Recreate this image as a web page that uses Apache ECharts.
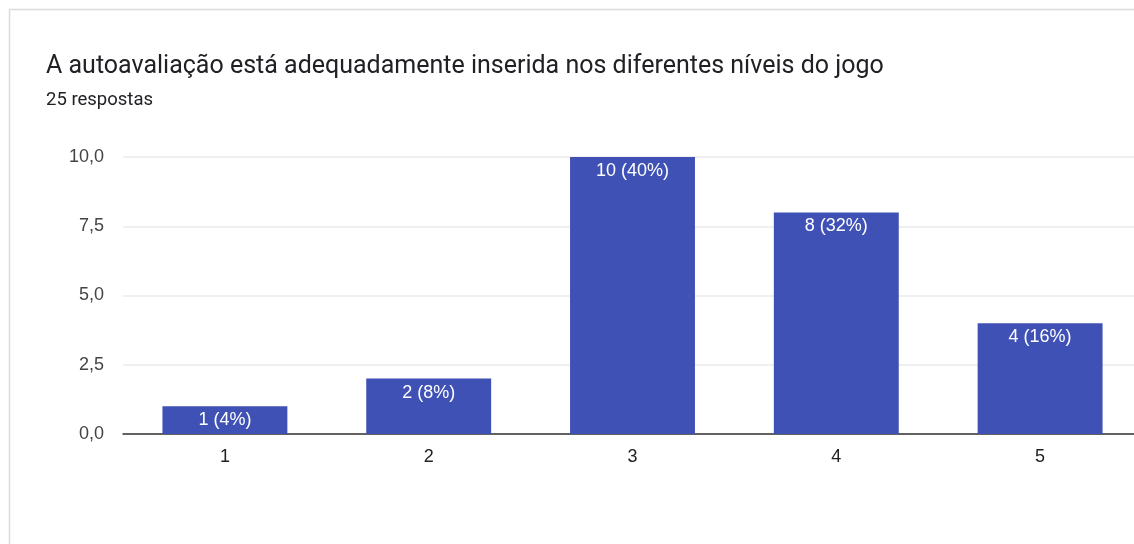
<!DOCTYPE html>
<html>
<head>
<meta charset="utf-8">
<script src="https://cdn.jsdelivr.net/npm/echarts@6/dist/echarts.min.js"></script>
<style>
  html, body { margin: 0; padding: 0; background: #fff; overflow: hidden; }
  #chart { width: 1160px; height: 544px; }
</style>
</head>
<body>
<div id="chart"></div>
<script>
// Survey answers on a 1–5 scale
const titleText = 'A autoavaliação está adequadamente inserida nos diferentes níveis do jogo';
const subtitleText = '25 respostas';
const categories = ['1', '2', '3', '4', '5'];
const counts = [1, 2, 10, 8, 4];
const totalResponses = 25;
const yTicks = [0, 2.5, 5, 7.5, 10];

const chart = echarts.init(document.getElementById('chart'), null, { renderer: 'canvas' });

const fmtTick = v => v.toFixed(1).replace('.', ',');
const labelFont = '"Liberation Sans", Arial, sans-serif';

chart.setOption({
  animation: false,
  backgroundColor: '#ffffff',
  graphic: [{
    type: 'rect',
    shape: { x: 9.5, y: 9.5, width: 1300, height: 700 },
    style: { fill: 'none', stroke: '#dadce0', lineWidth: 1.5 },
    silent: true,
    z: -1
  }],
  title: {
    text: titleText,
    subtext: subtitleText,
    left: 41,
    top: 49,
    itemGap: 12,
    textStyle: { fontFamily: 'Roboto', fontSize: 25, fontWeight: 'normal', color: '#202124' },
    subtextStyle: { fontFamily: 'Roboto', fontSize: 18.5, color: '#202124' }
  },
  grid: { left: 123, top: 157, width: 1019, height: 277 },
  xAxis: {
    type: 'category',
    data: categories,
    axisTick: { show: false },
    axisLine: { lineStyle: { color: '#333333', width: 1.5 } },
    axisLabel: { margin: 14, fontFamily: labelFont, fontSize: 18, color: '#222222' }
  },
  yAxis: {
    type: 'value',
    min: yTicks[0],
    max: yTicks[yTicks.length - 1],
    interval: yTicks[1] - yTicks[0],
    axisLine: { show: false },
    axisTick: { show: false },
    splitLine: { lineStyle: { color: '#ebebeb', width: 1.5 } },
    axisLabel: { margin: 19, fontFamily: labelFont, fontSize: 18, color: '#444444', formatter: fmtTick }
  },
  series: [{
    type: 'bar',
    data: counts,
    barWidth: '61.3%',
    itemStyle: { color: '#3f51b5' },
    label: {
      show: true,
      position: 'insideTop',
      distance: 5,
      fontFamily: labelFont,
      fontSize: 18,
      color: '#ffffff',
      formatter: p => p.value + ' (' + Math.round(p.value / totalResponses * 100) + '%)'
    }
  }]
});
</script>
</body>
</html>
